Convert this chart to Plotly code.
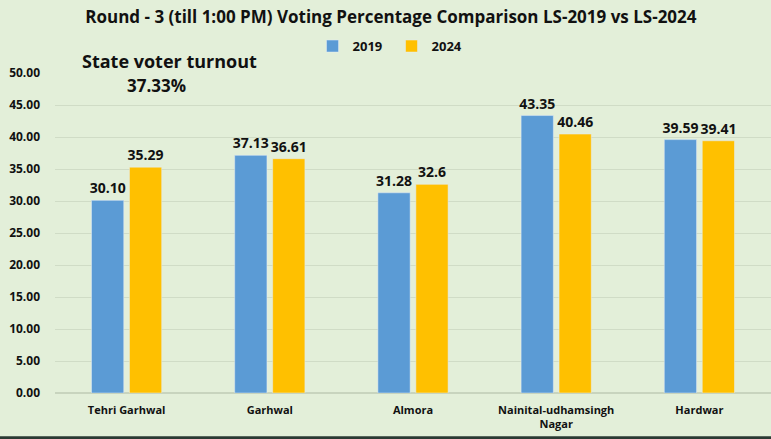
import plotly.graph_objects as go

# constituencies and turnout (%) till 1:00 PM, round 3
constituencies = ['Tehri Garhwal', 'Garhwal', 'Almora', 'Nainital-udhamsingh<br>Nagar', 'Hardwar']
turnout_2019 = [30.10, 37.13, 31.28, 43.35, 39.59]
turnout_2024 = [35.29, 36.61, 32.6, 40.46, 39.41]
labels_2019 = ['30.10', '37.13', '31.28', '43.35', '39.59']
labels_2024 = ['35.29', '36.61', '32.6', '40.46', '39.41']
tick_values = [0, 5, 10, 15, 20, 25, 30, 35, 40, 45, 50]
tick_labels = ['%.2f' % v for v in tick_values]

FONT = 'Open Sans'
BG = '#e3efd9'
label_font = dict(size=14, color='#111111', family=FONT, weight='bold')

figure = go.Figure()
figure.add_trace(go.Bar(
    x=constituencies, y=turnout_2019, name='2019', marker_color='#5b9bd5',
    text=labels_2019, textposition='outside', cliponaxis=False, textfont=label_font,
))
figure.add_trace(go.Bar(
    x=constituencies, y=turnout_2024, name='2024', marker_color='#ffc000',
    text=labels_2024, textposition='outside', cliponaxis=False, textfont=label_font,
))

figure.update_layout(
    width=771, height=439,
    paper_bgcolor=BG, plot_bgcolor=BG,
    margin=dict(l=55, r=0, t=73, b=46),
    barmode='group', bargap=0.47, bargroupgap=0.15,
    uniformtext=dict(minsize=14, mode='show'),
    font=dict(family=FONT, color='#111111'),
    title=dict(
        text='<b>Round - 3 (till 1:00 PM) Voting Percentage Comparison LS-2019 vs LS-2024</b>',
        x=0.507, xanchor='center', y=0.962, yanchor='middle',
        font=dict(size=17, family=FONT, color='#111111'),
    ),
    legend=dict(
        orientation='h', x=0.47, xanchor='center', yref='container', y=0.895, yanchor='middle',
        bgcolor='rgba(0,0,0,0)', font=dict(size=13, family=FONT, weight='bold'),
        itemwidth=30, entrywidth=34, traceorder='normal',
    ),
    showlegend=True,
)
figure.update_yaxes(
    range=[0, 50], tickvals=tick_values, ticktext=tick_labels,
    tickfont=dict(size=12, family=FONT, weight='bold'),
    showgrid=True, gridcolor='#d0dcc6', gridwidth=1, automargin=False,
    zeroline=True, zerolinecolor='#c8d4be', ticks='', showline=False,
    ticklabelstandoff=14,
)
figure.update_xaxes(
    tickfont=dict(size=11, family=FONT, weight='bold'), showline=False, ticks='',
    automargin=False, ticklabelstandoff=9,
)

figure.add_annotation(
    text='<b>State voter turnout</b>', xref='paper', yref='paper',
    x=0.16, xanchor='center', y=1.0375, yanchor='middle', showarrow=False,
    font=dict(size=18, family=FONT),
)
figure.add_annotation(
    text='<b>37.33%</b>', xref='paper', yref='paper',
    x=0.142, xanchor='center', y=0.96, yanchor='middle', showarrow=False,
    font=dict(size=17, family=FONT),
)
# dark frame edge along the bottom of the picture
figure.add_shape(
    type='line', xref='paper', yref='paper', x0=-0.1, x1=1.1, y0=-0.14, y1=-0.14,
    line=dict(color='#2b3a33', width=3),
)

# drop the page's default 8px body margin so the figure fills the window
figure.write_html(
    'out.html', config={'displayModeBar': False},
    post_script="document.body.style.margin='0';",
)
